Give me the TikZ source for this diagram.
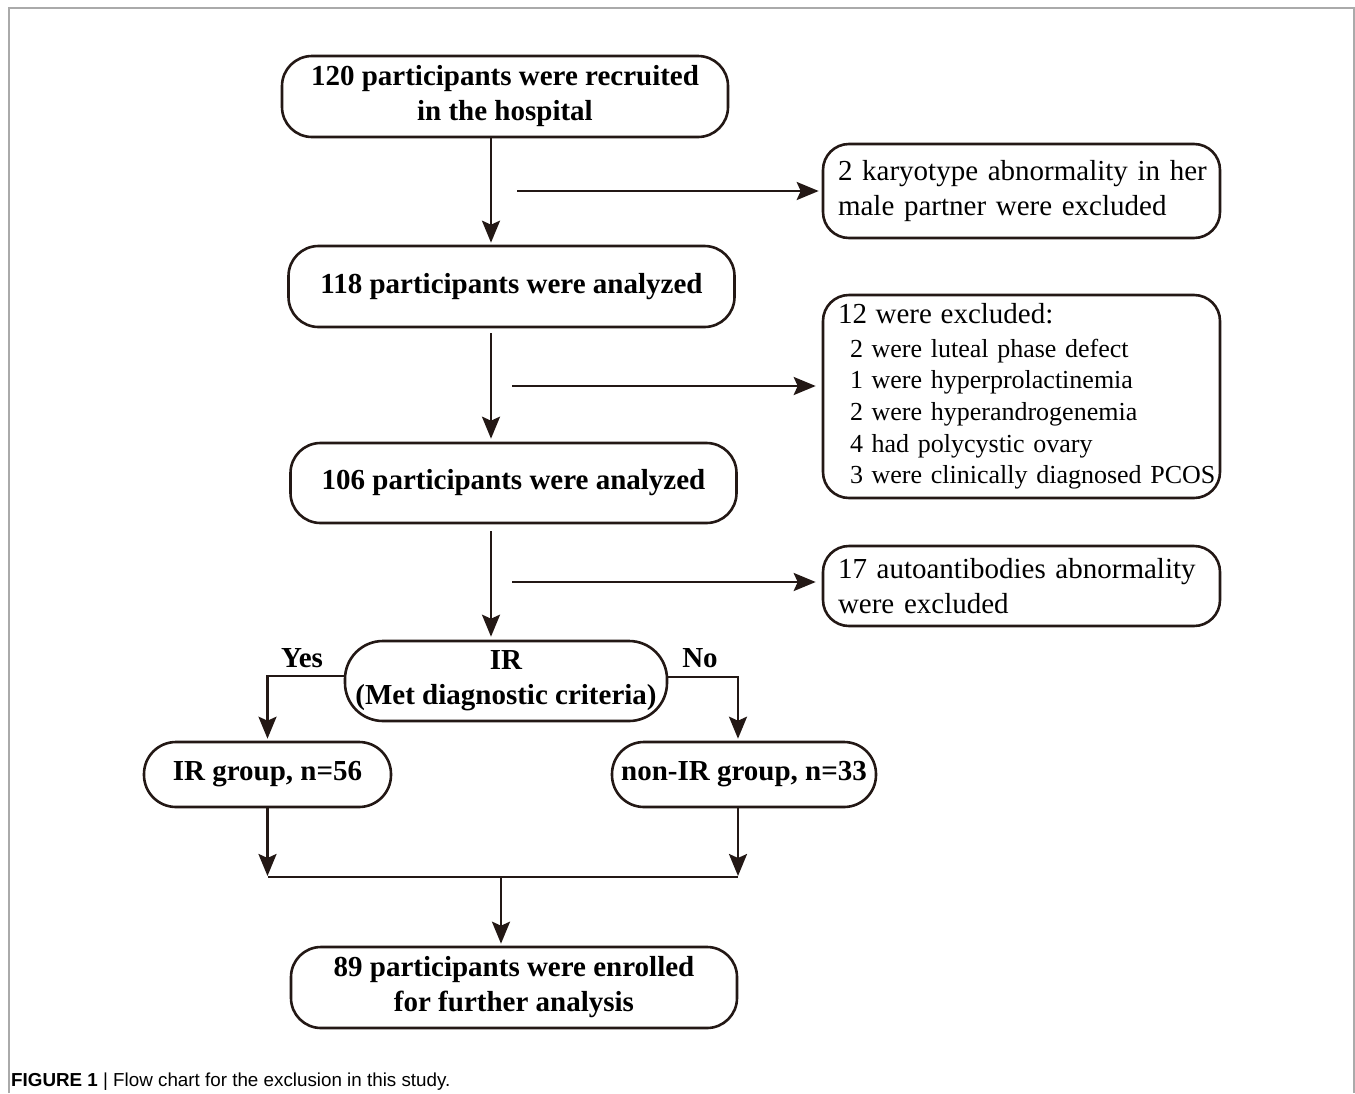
\documentclass[tikz,border=0pt]{standalone}
\usepackage{fontspec}
\setmainfont{Liberation Serif}
\newfontfamily\captionfont{Liberation Sans}
\usepackage{tikz}
\usetikzlibrary{arrows.meta}
\definecolor{darkbrown}{RGB}{35,24,21}
\definecolor{framegray}{RGB}{170,170,170}
\newcommand{\bigtext}{\fontsize{29}{35}\selectfont}
\newcommand{\smalltext}{\fontsize{26}{31.6}\selectfont}
\newcommand{\widthstage}{446pt}
\newcommand{\widthexcl}{367pt}
\tikzset{
    common/.style={draw=darkbrown, line width=2.6pt, rectangle, rounded corners=30pt, inner sep=0pt},
    stage/.style={common, align=center, minimum width=\widthstage, minimum height=81pt, font=\bigtext\bfseries},
    excl/.style={common, rounded corners=26pt, align=left, inner xsep=15pt, text width=\widthexcl, minimum height=80pt, font=\bigtext},
    decision/.style={common, align=center, rounded corners=38pt, minimum width=322pt, minimum height=80pt, font=\bigtext\bfseries},
    group/.style={common, rounded corners=32pt, minimum height=65pt, font=\bigtext\bfseries},
    answer/.style={inner sep=0pt, font=\bigtext\bfseries},
    line/.style={draw=darkbrown, line width=2.6pt},
    arr/.style={line, -{Stealth[length=22pt, width=18pt, inset=4pt]}}
}
\begin{document}
\begin{tikzpicture}[x=1pt, y=-1pt]
    \useasboundingbox (0,0) rectangle (1355,1093);
    \draw[framegray, line width=1.5pt] (9,1093) -- (9,8) -- (1354,8) -- (1354,1093);

    % main column
    \node[stage] (recruited) at (505,96.5) {120 participants were recruited\\in the hospital};
    \node[stage] (analyzed1) at (511.5,286.5) {118 participants were analyzed};
    \node[stage, minimum height=80pt] (analyzed2) at (513.5,483) {106 participants were analyzed};
    \node[decision] (ir) at (506,681) {IR\\(Met diagnostic criteria)};
    \node[group, minimum width=247pt] (irgroup) at (267.5,774.5) {IR group, n=56};
    \node[group, minimum width=264pt] (nonir) at (744,774.5) {non-IR group, n=33};
    \node[stage] (enrolled) at (514,987.5) {89 participants were enrolled\\for further analysis};

    % exclusions
    \node[excl, minimum height=94pt] (karyotype) at (1021.5,191)
        {\mbox{2 karyotype abnormality in her}\\\mbox{male partner were excluded}};
    \node[excl, minimum height=203pt, font=\smalltext] (twelve) at (1021.5,396.5)
        {{\bigtext 12 were excluded:}\\[2pt]
         \hspace*{12pt}\mbox{2 were luteal phase defect}\\
         \hspace*{12pt}\mbox{1 were hyperprolactinemia}\\
         \hspace*{12pt}\mbox{2 were hyperandrogenemia}\\
         \hspace*{12pt}\mbox{4 had polycystic ovary}\\
         \hspace*{12pt}\mbox{3 were clinically diagnosed PCOS}};
    \node[excl] (autoab) at (1021.5,586) {\mbox{17 autoantibodies abnormality}\\were excluded};

    \node[answer] (yes) at (302,658) {Yes};
    \node[answer] (no) at (700,658) {No};

    \coordinate (spine) at (491,0);
    \coordinate (side1) at (517,191);
    \coordinate (side2) at (512,386);
    \coordinate (side3) at (512,582);
    \coordinate (merge) at (501,877);

    \draw[arr, shorten >=2pt] (recruited.south -| spine) -- (analyzed1.north -| spine);
    \draw[arr, shorten <=5pt, shorten >=3pt] (analyzed1.south -| spine) -- (analyzed2.north -| spine);
    \draw[arr, shorten <=7pt, shorten >=3pt] (analyzed2.south -| spine) -- (ir.north -| spine);
    \draw[arr, shorten >=3pt] (side1) -- (side1 -| karyotype.west);
    \draw[arr, shorten >=6pt] (side2) -- (side2 -| twelve.west);
    \draw[arr, shorten >=6pt] (side3) -- (side3 -| autoab.west);

    \draw[arr, shorten >=2pt] ([yshift=5pt]ir.west) -| (irgroup.north);
    \draw[arr, shorten >=2pt] ([yshift=4pt]ir.east) -| ([xshift=-6pt]nonir.north);
    \draw[arr, shorten >=1pt] (irgroup.south) -- (irgroup.south |- merge);
    \draw[arr, shorten >=1pt] ([xshift=-6pt]nonir.south) -- ([xshift=-6pt]nonir.south |- merge);
    \draw[line] (irgroup.south |- merge) -- ([xshift=-6pt]nonir.south |- merge);
    \draw[arr, shorten >=2pt] (merge) -- (merge |- enrolled.north);

    \node[anchor=base west, inner sep=0pt, font=\captionfont\fontsize{18.8}{22}\selectfont] (caption) at (11,1086)
        {\textbf{FIGURE 1} | Flow chart for the exclusion in this study.};
\end{tikzpicture}
\end{document}
